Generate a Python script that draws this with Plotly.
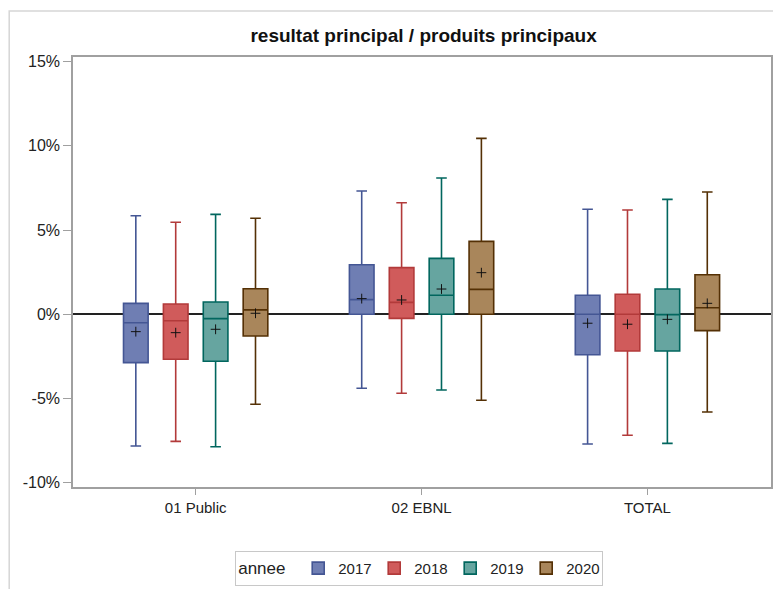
import plotly.graph_objects as go

categories = ["01 Public", "02 EBNL", "TOTAL"]
years = ["2017", "2018", "2019", "2020"]

# values in percent, per year, per category
q1 = {
    "2017": [-2.87, 0.00, -2.40],
    "2018": [-2.67, -0.24, -2.18],
    "2019": [-2.79, 0.00, -2.18],
    "2020": [-1.29, 0.00, -0.97],
}
median = {
    "2017": [-0.50, 0.87, 0.00],
    "2018": [-0.38, 0.71, 0.00],
    "2019": [-0.26, 1.13, -0.02],
    "2020": [0.26, 1.48, 0.39],
}
q3 = {
    "2017": [0.65, 2.94, 1.13],
    "2018": [0.61, 2.77, 1.19],
    "2019": [0.73, 3.32, 1.50],
    "2020": [1.52, 4.33, 2.35],
}
lower = {
    "2017": [-7.82, -4.39, -7.70],
    "2018": [-7.54, -4.69, -7.18],
    "2019": [-7.86, -4.49, -7.66],
    "2020": [-5.34, -5.10, -5.80],
}
upper = {
    "2017": [5.85, 7.32, 6.23],
    "2018": [5.46, 6.62, 6.19],
    "2019": [5.93, 8.09, 6.82],
    "2020": [5.70, 10.44, 7.26],
}
mean = {
    "2017": [-1.03, 0.93, -0.53],
    "2018": [-1.09, 0.85, -0.59],
    "2019": [-0.89, 1.50, -0.30],
    "2020": [0.06, 2.47, 0.65],
}
y_ticks = [-10, -5, 0, 5, 10, 15]
y_tick_labels = ["-10%", "-5%", "0%", "5%", "10%", "15%"]

fills = {"2017": "#6F7EB3", "2018": "#D05B5B", "2019": "#66A5A0", "2020": "#A9865B"}
lines = {"2017": "#445694", "2018": "#B23A3A", "2019": "#01665E", "2020": "#543005"}

slot = 0.1766
box_w = 0.109

fig = go.Figure()
for j, yr in enumerate(years):
    off = (j - 1.5) * slot
    xs = [i + off for i in range(len(categories))]
    fig.add_trace(go.Box(
        x=xs, q1=q1[yr], median=median[yr], q3=q3[yr],
        lowerfence=lower[yr], upperfence=upper[yr],
        name=yr, width=box_w, whiskerwidth=0.43,
        fillcolor=fills[yr], line=dict(color=lines[yr], width=1.6),
        boxpoints=False, hoverinfo="skip",
    ))
for j, yr in enumerate(years):
    off = (j - 1.5) * slot
    xs = [i + off for i in range(len(categories))]
    fig.add_trace(go.Scatter(
        x=xs, y=mean[yr], mode="markers", showlegend=False,
        marker=dict(symbol="cross-thin", size=7, line=dict(color="#111", width=1.0)),
        hoverinfo="skip",
    ))

fig.update_layout(
    width=773, height=589,
    margin=dict(l=73, r=0, t=57, b=102),
    paper_bgcolor="white", plot_bgcolor="white",
    font=dict(family="Liberation Sans, Arial, sans-serif", size=15, color="#222"),
    title=dict(text="<b>resultat principal / produits principaux</b>",
               x=0.548, xanchor="center", y=0.94, yanchor="middle",
               font=dict(size=19, color="#111")),
    showlegend=True,
    legend=dict(
        orientation="h", x=0.496, xanchor="center", y=-0.230, yanchor="bottom",
        title=dict(text="annee ", font=dict(size=17)),
        font=dict(size=15), bordercolor="#c8c8c8", borderwidth=1,
        itemwidth=30, entrywidth=31, traceorder="normal",
    ),
    shapes=[dict(type="rect", xref="paper", yref="paper",
                 x0=-0.0914, x1=1.02, y0=-0.35, y1=1.107,
                 line=dict(color="#d6d6d6", width=1.5), layer="below")],
)
fig.update_xaxes(
    range=[-0.543, 2.547],
    tickvals=list(range(len(categories))), ticktext=categories,
    showline=True, linecolor="#a0a0a0", linewidth=1.5, mirror=True,
    ticks="outside", ticklen=6, tickcolor="#a0a0a0", showgrid=False, zeroline=False,
    tickfont=dict(size=15, color="#222"),
)
fig.update_yaxes(
    range=[-10.25, 15.27],
    tickvals=y_ticks, ticktext=y_tick_labels,
    showline=True, linecolor="#a0a0a0", linewidth=1.5, mirror=True,
    ticks="outside", ticklen=8, tickcolor="#a0a0a0", showgrid=False,
    zeroline=True, zerolinecolor="#222", zerolinewidth=1.5,
    tickfont=dict(size=16, color="#222"),
)

fig.write_html(
    "out.html",
    config={"displayModeBar": False},
    post_script="document.body.style.margin='0';document.body.style.overflow='hidden';",
)
